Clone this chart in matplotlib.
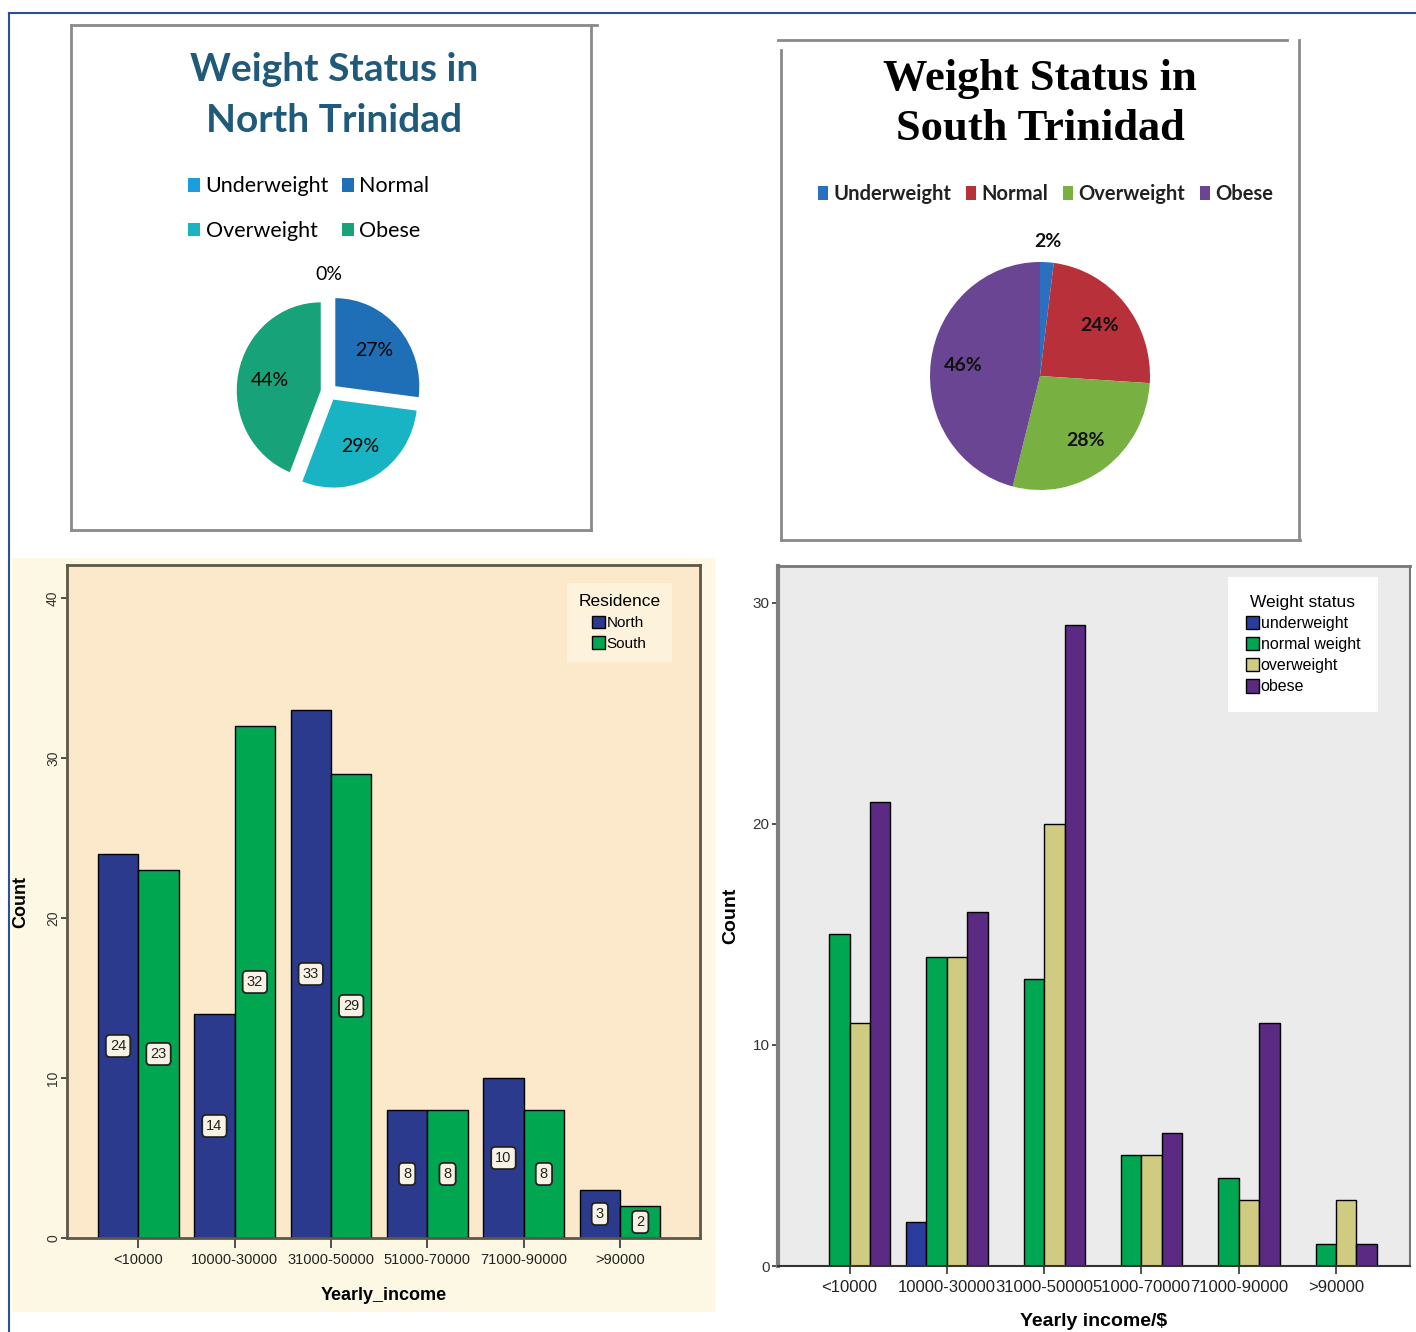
import matplotlib
matplotlib.use("Agg")
import matplotlib.pyplot as plt
from matplotlib.patches import Rectangle, Patch
from matplotlib.lines import Line2D
import numpy as np

# ---------------- data ----------------
status_labels = ["Underweight", "Normal", "Overweight", "Obese"]
north_pct = [0, 27, 29, 44]
south_pct = [2, 24, 28, 46]

income_cats = ["<10000", "10000-30000", "31000-50000", "51000-70000", "71000-90000", ">90000"]
north_counts = [24, 14, 33, 8, 10, 3]
south_counts = [23, 32, 29, 8, 8, 2]

ws_labels = ["underweight", "normal weight", "overweight", "obese"]
underweight_counts = [0, 2, 0, 0, 0, 0]
normal_counts = [15, 14, 13, 5, 4, 1]
overweight_counts = [11, 14, 20, 5, 3, 3]
obese_counts = [21, 16, 29, 6, 11, 1]

# ---------------- styling ----------------
north_pie_colors = ["#1a9ee0", "#1f6fb6", "#18b4c4", "#17a279"]
south_pie_colors = ["#2b70c0", "#b8303a", "#78b042", "#6a4594"]
res_colors = ["#2b3a8c", "#00a650"]
ws_colors = ["#2a3d9c", "#00a651", "#cfcb80", "#5b2a83"]

W, H = 1416, 1332
fig = plt.figure(figsize=(W / 100, H / 100), dpi=100)
fig.patch.set_facecolor("white")


def fx(x):
    return x / W


def fy(y):
    return 1 - y / H


def px_axes(x0, y0, x1, y1, **kw):
    return fig.add_axes([x0 / W, 1 - y1 / H, (x1 - x0) / W, (y1 - y0) / H], **kw)


def fline(xs, ys, color="#8a8a8a", lw=2.0, z=1):
    fig.add_artist(Line2D([fx(x) for x in xs], [fy(y) for y in ys], color=color, lw=lw,
                          transform=fig.transFigure, zorder=z))


# cream background behind bottom-left chart
fig.add_artist(Rectangle((fx(12), fy(1312)), fx(715) - fx(12), fy(558) - fy(1312),
                         transform=fig.transFigure, facecolor="#fdf8e3", edgecolor="none", zorder=0))

# outer blue border
fline([9, W], [13, 13], color="#2b4fa0", lw=1.5, z=5)
fline([9, 9], [13, H], color="#2b4fa0", lw=1.5, z=5)

# top-left panel box
fline([71, 597], [25, 25])
fline([71, 71], [25, 530])
fline([591, 591], [25, 530])
fline([71, 591], [530, 530])

# top-right panel box
fline([778, 1287], [40, 40])
fline([781, 781], [50, 540])
fline([1299, 1299], [40, 540])
fline([781, 1300], [540, 540])

# ---------------- top-left pie ----------------
fig.text(fx(334), fy(95), "Weight Status in\nNorth Trinidad", ha="center", va="center",
         fontsize=28, fontweight="bold", family="Lato", color="#1f5a7a", linespacing=1.55)

cx, cy, rx, ry = 329, 392, 84, 88
axp = px_axes(cx - 1.3 * rx, cy - 1.3 * ry, cx + 1.3 * rx, cy + 1.3 * ry)
axp.pie(north_pct, colors=north_pie_colors, startangle=90, counterclock=False,
        explode=[0.1] * 4, wedgeprops=dict(linewidth=0))
axp.set_aspect("auto")
axp.set_xlim(-1.3, 1.3)
axp.set_ylim(-1.3, 1.3)
axp.axis("off")
tot = sum(north_pct)
ang = 90.0
for v in north_pct:
    mid = ang - v / tot * 360 / 2
    ang -= v / tot * 360
    d = 0.72 if v > 0 else 1.33
    axp.text(d * np.cos(np.radians(mid)), d * np.sin(np.radians(mid)), f"{v}%",
             ha="center", va="center", fontsize=14, family="Lato", color="black")

leg_h = [Patch(facecolor=c, edgecolor="none") for c in north_pie_colors]
order = [0, 2, 1, 3]
fig.legend([leg_h[i] for i in order], [status_labels[i] for i in order], ncol=2,
           loc="upper left", bbox_to_anchor=(fx(169), fy(157)), frameon=False,
           handlelength=0.55, handleheight=0.6, handletextpad=0.25, columnspacing=0.6,
           labelspacing=1.15, prop=dict(family="Lato", size=15.5))

# ---------------- top-right pie ----------------
fig.text(fx(1040), fy(104), "Weight Status in\nSouth Trinidad", ha="center", va="center",
         fontsize=32, fontweight="bold", family="Liberation Serif", color="black", linespacing=1.3)

cx, cy, rx, ry = 1040, 376, 110, 114
axq = px_axes(cx - 1.3 * rx, cy - 1.3 * ry, cx + 1.3 * rx, cy + 1.3 * ry)
axq.pie(south_pct, colors=south_pie_colors, startangle=90, counterclock=False,
        wedgeprops=dict(linewidth=0))
axq.set_aspect("auto")
axq.set_xlim(-1.3, 1.3)
axq.set_ylim(-1.3, 1.3)
axq.axis("off")
tot = sum(south_pct)
ang = 90.0
for v in south_pct:
    mid = ang - v / tot * 360 / 2
    ang -= v / tot * 360
    d = 0.7 if v > 5 else 1.18
    axq.text(d * np.cos(np.radians(mid)), d * np.sin(np.radians(mid)), f"{v}%",
             ha="center", va="center", fontsize=14, family="Lato", fontweight="bold",
             color="#111111")

leg_h2 = [Patch(facecolor=c, edgecolor="none") for c in south_pie_colors]
fig.legend(leg_h2, status_labels, ncol=4, loc="center left",
           bbox_to_anchor=(fx(800), fy(194)), frameon=False,
           handlelength=0.5, handleheight=0.7, handletextpad=0.25, columnspacing=0.75,
           prop=dict(family="Lato", size=14.5, weight="bold"), labelcolor="#222222")

# ---------------- bottom-left bar chart ----------------
ax1 = px_axes(67, 565, 700, 1238)
ax1.set_facecolor("#fce9cc")
x = np.arange(len(income_cats))
bw = 0.42
b1 = ax1.bar(x - bw / 2, north_counts, bw, color=res_colors[0], edgecolor="black", linewidth=1, zorder=2)
b2 = ax1.bar(x + bw / 2, south_counts, bw, color=res_colors[1], edgecolor="black", linewidth=1, zorder=2)
for xs, vals in ((x - bw / 2, north_counts), (x + bw / 2, south_counts)):
    for xi, v in zip(xs, vals):
        ax1.text(xi, v / 2, str(v), ha="center", va="center", fontsize=10.5,
                 family="Liberation Sans", color="#222222", zorder=3,
                 bbox=dict(boxstyle="round,pad=0.28", facecolor="#f7f2e4", edgecolor="#222222", lw=1.3))
ax1.set_xlim(-0.74, 5.83)
ax1.set_ylim(0, 42.06)
ax1.set_xticks(x)
ax1.set_xticklabels(income_cats, family="Liberation Sans", fontsize=10.5, color="#222222")
ax1.set_yticks([0, 10, 20, 30, 40])
ax1.set_yticklabels(["0", "10", "20", "30", "40"], rotation=90, va="center",
                    family="Liberation Sans", fontsize=10, color="#333333")
ax1.tick_params(axis="x", length=7, width=1.2, color="#333333", pad=4)
ax1.tick_params(axis="y", length=4, width=1.2, color="#333333", pad=1)
for s in ax1.spines.values():
    s.set_color("#5b5848")
    s.set_linewidth(2)
ax1.set_xlabel("Yearly_income", family="Liberation Sans", fontweight="bold", fontsize=13, labelpad=14)
ax1.set_ylabel("Count", family="Liberation Sans", fontweight="bold", fontsize=13, labelpad=12)
ax1.legend([b1, b2], ["North", "South"], title="Residence", loc="upper left",
           bbox_to_anchor=((567 - 67) / 633, 1 - (583 - 565) / 673), borderaxespad=0, frameon=True,
           facecolor="#fdf3dc", edgecolor="none", fancybox=False, framealpha=1,
           prop=dict(family="Liberation Sans", size=11),
           title_fontproperties=dict(family="Liberation Sans", size=12.5),
           handlelength=0.85, handleheight=0.9, handletextpad=0.1, labelspacing=0.4, borderpad=0.75)

# ---------------- bottom-right bar chart ----------------
ax2 = px_axes(778, 566, 1410, 1266)
ax2.set_facecolor("#ebebeb")
bw2 = 0.21
series = [underweight_counts, normal_counts, overweight_counts, obese_counts]
handles = []
for k, (vals, col) in enumerate(zip(series, ws_colors)):
    h = ax2.bar(x + (k - 1.5) * bw2, vals, bw2, color=col, edgecolor="black", linewidth=1, zorder=2)
    handles.append(h)
ax2.set_xlim(-0.735, 5.76)
ax2.set_ylim(0, 31.67)
ax2.set_xticks(x)
ax2.set_xticklabels(income_cats, family="Liberation Sans", fontsize=12, color="#222222")
ax2.set_yticks([0, 10, 20, 30])
ax2.set_yticklabels(["0", "10", "20", "30"], family="Liberation Sans", fontsize=11, color="#333333")
ax2.tick_params(axis="x", length=6, width=1.2, color="#333333", pad=4)
ax2.tick_params(axis="y", length=4, width=1.2, color="#333333", pad=2)
ax2.spines["left"].set_color("#7f7f7f")
ax2.spines["left"].set_linewidth(3)
ax2.spines["top"].set_color("#777777")
ax2.spines["top"].set_linewidth(2)
ax2.spines["right"].set_color("#777777")
ax2.spines["right"].set_linewidth(1.5)
ax2.spines["bottom"].set_color("#333333")
ax2.spines["bottom"].set_linewidth(1.5)
ax2.set_xlabel("Yearly income/$", family="Liberation Sans", fontweight="bold", fontsize=14, labelpad=13)
ax2.set_ylabel("Count", family="Liberation Sans", fontweight="bold", fontsize=14, labelpad=10)
ax2.legend(handles, ws_labels, title="Weight status", loc="upper left",
           bbox_to_anchor=((1228 - 778) / 632, 1 - (577 - 566) / 700), borderaxespad=0, frameon=True,
           facecolor="white", edgecolor="none", fancybox=False, framealpha=1,
           prop=dict(family="Liberation Sans", size=11.5),
           title_fontproperties=dict(family="Liberation Sans", size=12.5),
           handlelength=0.85, handleheight=0.9, handletextpad=0.1, labelspacing=0.38, borderpad=1.1)

fig.savefig("out.png", dpi=100, facecolor="white")
